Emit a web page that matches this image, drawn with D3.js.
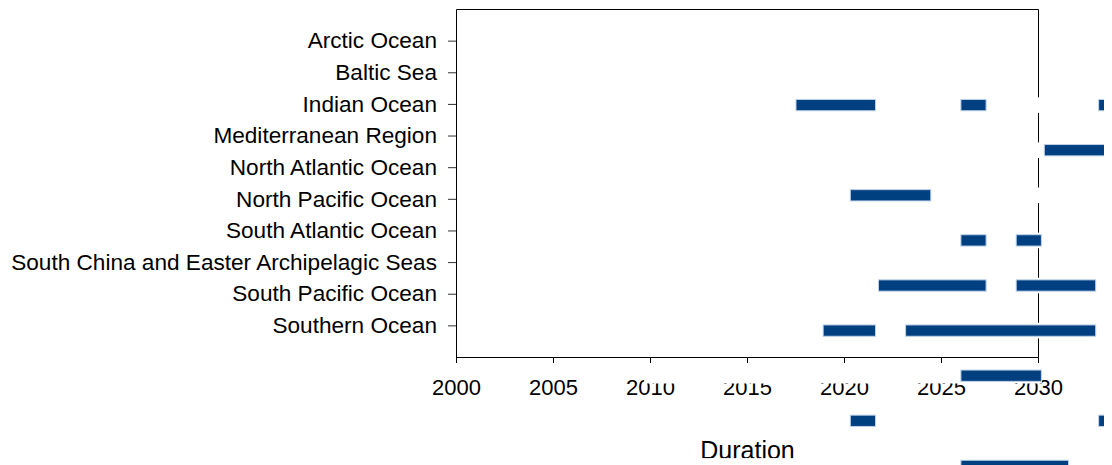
<!DOCTYPE html>
<html>
<head>
<meta charset="utf-8">
<script src="https://cdn.jsdelivr.net/npm/d3@7"></script>
<style>
  html, body { margin: 0; padding: 0; background: #fff; }
  svg { display: block; overflow: hidden; }
  text { font-family: "Liberation Sans", Arial, sans-serif; fill: #000; }
</style>
</head>
<body>
<script>
// ---- data ----
const categories = ["Arctic Ocean", "Baltic Sea", "Indian Ocean", "Mediterranean Region",
  "North Atlantic Ocean", "North Pacific Ocean", "South Atlantic Ocean",
  "South China and Easter Archipelagic Seas", "South Pacific Ocean", "Southern Ocean"];
const xTicks = [2000, 2005, 2010, 2015, 2020, 2025, 2030];
const xTitle = "Duration";

// bar rows (stacked gantt rows, as drawn)
const barRow   = [2, 2, 2, 3, 4, 5, 5, 6, 6, 7, 7, 8, 9, 9, 10];
const barStart = [2017.5, 2026.0, 2033.1, 2030.3, 2020.3, 2026.0, 2028.85, 2021.75, 2028.85, 2018.9, 2023.15, 2026.0, 2020.3, 2033.1, 2026.0];
const barEnd   = [2021.65, 2027.35, 2034.0, 2034.0, 2024.5, 2027.35, 2030.2, 2027.35, 2033.0, 2021.65, 2033.0, 2030.2, 2021.65, 2034.0, 2031.6];
// invisible stacked segments: common base, end of each row's stack
const stackBase = 2009.7;
const rowStackEnd = [null, null, 2034.0, 2034.0, 2031.0, 2030.2, 2033.0, 2033.0, 2030.2, 2034.0, 2031.6];

// ---- drawing ----
const W = 1104, H = 465;
const svg = d3.select("body").append("svg").attr("width", W).attr("height", H);

const x = d3.scaleLinear().domain([2000, 2030]).range([456, 1038]);
const yCat = d3.scalePoint().domain(categories).range([9, 357]).padding(1);
const yRow = d3.scalePoint().domain(d3.range(rowStackEnd.length)).range([14.9, 465.9]);

// frame (top + right)
svg.append("path")
  .attr("d", `M${x(2000) + 0.5},9.5H${x(2030) + 0.5}V357.5`)
  .attr("fill", "none").attr("stroke", "#000").attr("stroke-width", 1);

// left axis
const gy = svg.append("g").attr("transform", `translate(${x(2000)},0)`)
  .call(d3.axisLeft(yCat).tickSize(8).tickSizeOuter(0).tickPadding(11));
gy.select(".domain").attr("stroke", "#000");
gy.selectAll(".tick line").attr("stroke", "#333");
gy.selectAll("text").attr("font-size", 22.6).attr("font-family", "Liberation Sans, Arial, sans-serif").attr("fill", "#000");

// bottom axis
const gx = svg.append("g").attr("transform", `translate(0,357)`)
  .call(d3.axisBottom(x).tickValues(xTicks).tickFormat(d3.format("d")).tickSize(6).tickSizeOuter(0).tickPadding(16));
gx.select(".domain").attr("stroke", "#000");
gx.selectAll(".tick line").attr("stroke", "#000");
gx.selectAll("text").attr("font-size", 22).attr("font-family", "Liberation Sans, Arial, sans-serif").attr("fill", "#000");

// axis title
svg.append("text")
  .attr("x", (x(2000) + x(2030)) / 2 + 0.5)
  .attr("y", 459)
  .attr("text-anchor", "middle")
  .attr("font-size", 25)
  .text(xTitle);

// white (invisible) stacked segments
const rows = rowStackEnd.map((e, i) => ({ i, e })).filter(d => d.e !== null);
svg.append("g").selectAll("rect").data(rows).join("rect")
  .attr("x", d => x(stackBase))
  .attr("width", d => x(d.e) - x(stackBase))
  .attr("y", d => yRow(d.i) - 7.8)
  .attr("height", 15.6)
  .attr("fill", "#fff");

// visible bars
const bars = barRow.map((r, k) => ({ r, s: barStart[k], e: barEnd[k] }));
svg.append("g").selectAll("rect").data(bars).join("rect")
  .attr("x", d => x(d.s) + 0.5)
  .attr("width", d => x(d.e) - x(d.s) - 1)
  .attr("y", d => yRow(d.r) - 5.65)
  .attr("height", 11.3)
  .attr("fill", "#003f80")
  .attr("stroke", "#bfd2e8")
  .attr("stroke-width", 1);
</script>
</body>
</html>
